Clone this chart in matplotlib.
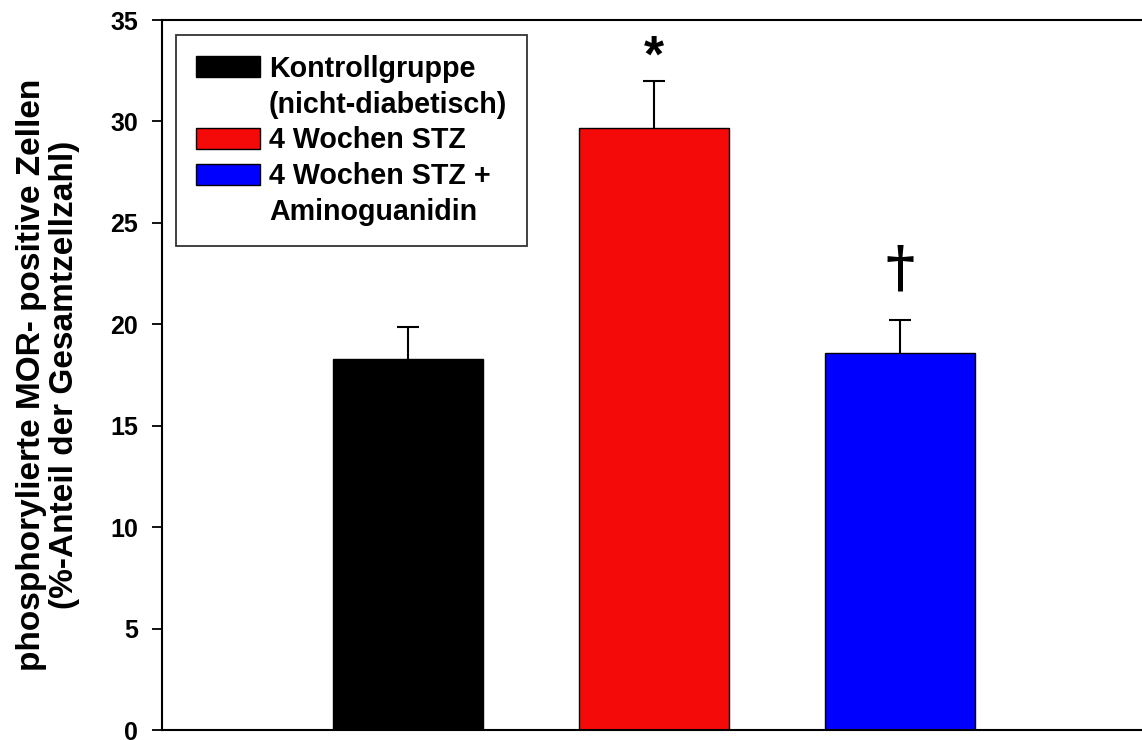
import matplotlib
matplotlib.use("Agg")
import matplotlib.pyplot as plt
from matplotlib.patches import Patch

# Gruppen, Mittelwerte und Standardfehler
gruppen = ['Kontrollgruppe\n(nicht-diabetisch)', '4 Wochen STZ', '4 Wochen STZ +\nAminoguanidin']
mittelwerte = [18.3, 29.7, 18.6]
fehler = [1.55, 2.3, 1.6]
farben = ['#000000', '#f50a0a', '#0000ff']
signifikanz = ['', '*', '\u2020']

plt.rcParams['font.family'] = ['Liberation Sans', 'DejaVu Sans']
plt.rcParams['font.weight'] = 'bold'

fig = plt.figure(figsize=(11.42, 7.40), dpi=100)
ax = fig.add_axes([162 / 1142, 10 / 740, 984 / 1142, 710 / 740])

x = list(range(len(mittelwerte)))
ax.bar(x, mittelwerte, width=0.61, color=farben, edgecolor='black', linewidth=1.0, zorder=2)

# Fehlerbalken nur nach oben, ohne Kappe am Balken
oben = [m + f for m, f in zip(mittelwerte, fehler)]
ax.vlines(x, mittelwerte, oben, color='black', linewidth=1.5, zorder=3)
ax.hlines(oben, [xi - 0.043 for xi in x], [xi + 0.043 for xi in x],
          color='black', linewidth=1.5, zorder=3)

# Signifikanzzeichen über den Fehlerbalken
for xi, o, s in zip(x, oben, signifikanz):
    if s == '*':
        ax.text(xi, o - 0.1, s, ha='center', va='bottom', fontsize=37, fontweight='bold')
    elif s:
        ax.text(xi, o + 1.1, s, ha='center', va='bottom', fontsize=40,
                family=['DejaVu Serif'], fontweight='bold')

ax.set_xlim(-1, 3)
ax.set_ylim(0, 35)
ax.set_yticks(range(0, 36, 5))
ax.set_xticks([])
ax.tick_params(axis='y', direction='out', length=7.2, width=1.3, labelsize=18, pad=10)
for lbl in ax.get_yticklabels():
    lbl.set_fontweight('bold')

ax.spines['right'].set_visible(False)
for sp in ['left', 'top', 'bottom']:
    ax.spines[sp].set_linewidth(1.5)

ax.set_ylabel('phosphorylierte MOR- positive Zellen\n(%-Anteil der Gesamtzellzahl)',
              fontsize=24, fontweight='bold', labelpad=22, linespacing=1.05)

# Legende: zweite Zeile eines Eintrags als eigener Eintrag ohne Farbfeld
handles, labels = [], []
for c, g in zip(farben, gruppen):
    for i, zeile in enumerate(g.split('\n')):
        if i == 0:
            handles.append(Patch(facecolor=c, edgecolor='black', linewidth=1.0))
        else:
            handles.append(Patch(facecolor='none', edgecolor='none'))
        labels.append(zeile)

leg = ax.legend(handles, labels, loc='upper left', bbox_to_anchor=(0.0142, 0.979),
                fontsize=20.6, frameon=True, fancybox=False, edgecolor='black',
                handlelength=2.25, handleheight=0.75, handletextpad=0.3,
                labelspacing=0.27, borderpad=0.7, borderaxespad=0)
leg.get_frame().set_linewidth(1.3)
for t in leg.get_texts():
    t.set_fontweight('bold')

fig.savefig('out.png', dpi=100)
